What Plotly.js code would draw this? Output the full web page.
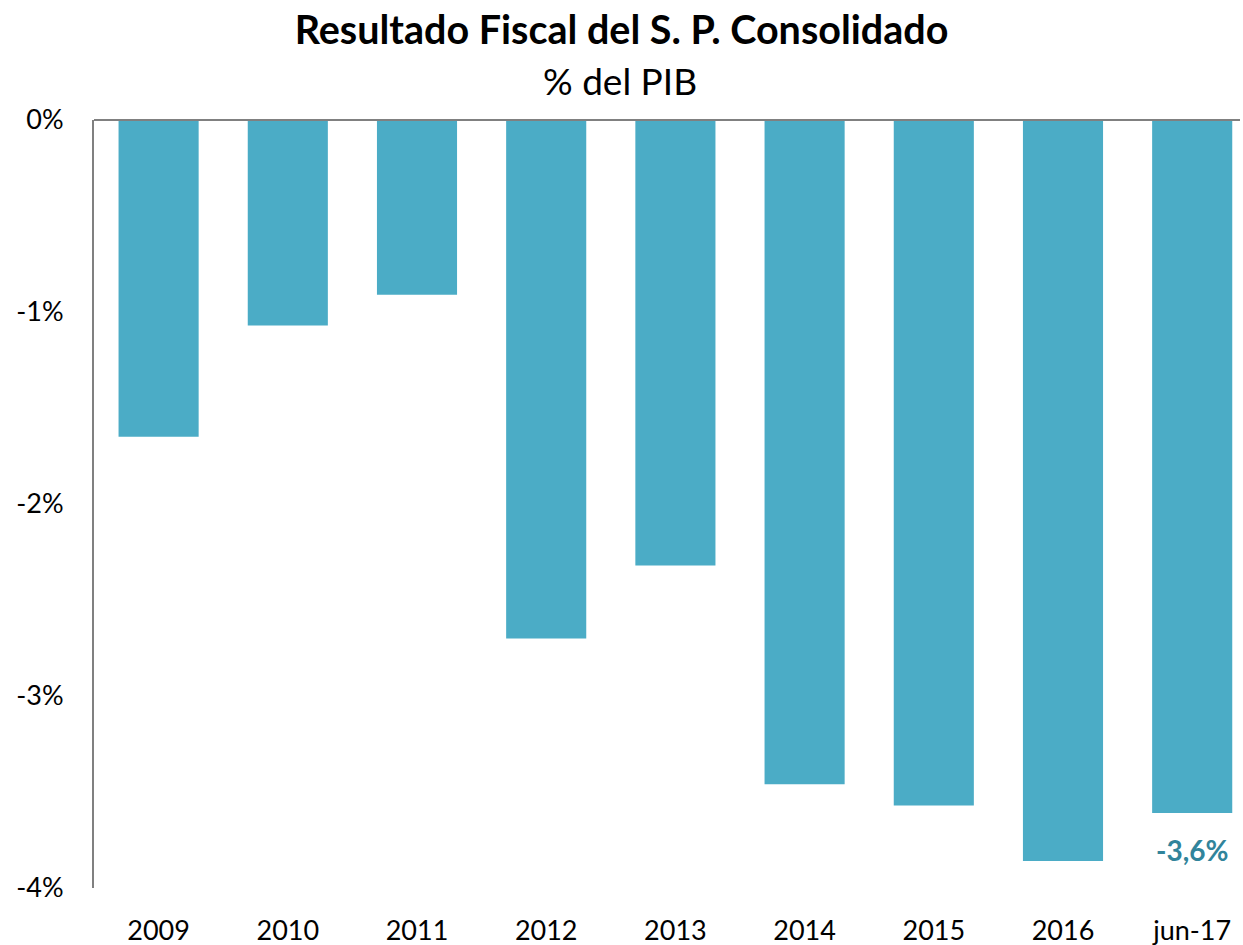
<!DOCTYPE html>
<html>
<head>
<meta charset="utf-8">
<script src="https://cdn.plot.ly/plotly-3.0.1.min.js"></script>
<style>html,body{margin:0;padding:0;background:#fff;}#chart{width:1243px;height:945px;}</style>
</head>
<body>
<div id="chart"></div>
<script>
const categories = ["2009","2010","2011","2012","2013","2014","2015","2016","jun-17"];
const values = [-1.65,-1.07,-0.91,-2.70,-2.32,-3.46,-3.57,-3.86,-3.61];
const yTickVals = [0,-1,-2,-3,-4];
const yTickText = ["0%","-1%","-2%","-3%","-4%"];
const lastLabel = "-3,6%";
const titleText = "Resultado Fiscal del S. P. Consolidado";
const subtitleText = "% del PIB";

const FONT = "Lato, 'Noto Sans', sans-serif";

const trace = {
  type: "bar",
  x: categories,
  y: values,
  marker: {color: "#4BACC6"},
  width: 0.62,
  hoverinfo: "x+y"
};

const layout = {
  width: 1243,
  height: 945,
  paper_bgcolor: "#ffffff",
  plot_bgcolor: "#ffffff",
  margin: {l: 94, r: 3, t: 120, b: 57},
  showlegend: false,
  font: {family: FONT, color: "#000000", size: 27},
  title: {
    text: "<b>" + titleText + "</b>",
    font: {family: FONT, size: 39.5, color: "#000000"},
    x: 0.5, xanchor: "center", xref: "container",
    y: 0.968, yref: "container", yanchor: "middle",
    automargin: false
  },
  xaxis: {
    type: "category",
    range: [-0.5, 8.37],
    showline: false,
    showgrid: false,
    zeroline: false,
    ticks: "",
    ticklabelstandoff: 24,
    tickfont: {family: FONT, size: 27, color: "#000000"}
  },
  yaxis: {
    range: [-4, 0],
    tickvals: yTickVals,
    ticktext: yTickText,
    showline: true,
    linecolor: "#808080",
    linewidth: 2,
    showgrid: false,
    zeroline: false,
    ticks: "",
    ticklabelstandoff: 23,
    tickfont: {family: FONT, size: 27, color: "#000000"}
  },
  shapes: [{
    type: "line", xref: "paper", yref: "paper",
    x0: 0, x1: 1, y0: 1, y1: 1,
    line: {color: "#808080", width: 2}
  }],
  annotations: [{
    x: 0.459, xref: "paper", xanchor: "center",
    y: 1, yref: "paper", yanchor: "middle",
    yshift: 40,
    text: subtitleText,
    showarrow: false,
    font: {family: FONT, size: 37, color: "#000000"}
  }, {
    x: categories[categories.length - 1],
    y: values[values.length - 1],
    xref: "x", yref: "y",
    text: "<b>" + lastLabel + "</b>",
    showarrow: false,
    yanchor: "top",
    yshift: -18,
    font: {family: FONT, size: 28, color: "#31849B"}
  }]
};

Plotly.newPlot("chart", [trace], layout, {displayModeBar: false});
</script>
</body>
</html>
